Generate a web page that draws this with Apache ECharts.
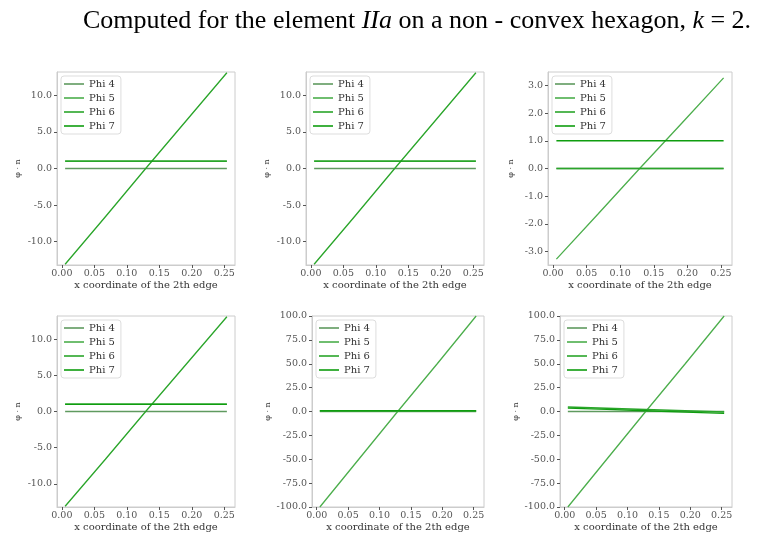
<!DOCTYPE html>
<html>
<head>
<meta charset="utf-8">
<script src="https://cdn.jsdelivr.net/npm/echarts@6/dist/echarts.min.js"></script>
<style>
  html, body { margin: 0; padding: 0; background: #fff; }
  #main { width: 760px; height: 542px; }
</style>
</head>
<body>
<div id="main"></div>
<script>
// x samples along the 2th edge
const xs = [0.005, 0.067, 0.129, 0.192, 0.254];
const seriesNames = ['Phi 4', 'Phi 5', 'Phi 6', 'Phi 7'];
const seriesColors = ['#5f9a5f', '#4cae4c', '#2aa52a', '#0f9d0f'];

// values
const flatZero = [0, 0, 0, 0, 0];
const flatOne = [1, 1, 1, 1, 1];
const flatHalf = [0.5, 0.5, 0.5, 0.5, 0.5];
const diag13 = [-13.1, -6.6, 0, 6.6, 13.1];
const diag3 = [-3.27, -1.64, 0, 1.64, 3.27];
const diag100 = [-100, -50, 0, 50, 100];
const slopeA = [4.7, 3.4, 2.1, 0.8, -0.5];
const slopeB = [3.6, 2.2, 0.8, -0.6, -2.0];

const xTicks = [0, 0.05, 0.1, 0.15, 0.2, 0.25];
const yTicks13 = [-10, -5, 0, 5, 10];
const yTicks3 = [-3, -2, -1, 0, 1, 2, 3];
const yTicks100 = [-100, -75, -50, -25, 0, 25, 50, 75, 100];

const xName = 'x coordinate of the 2th edge';
const yName = 'φ · n';

// panel layout (pixels) + which arrays go where
const panels = [
  { left: 57, top: 72, width: 178, height: 193, yMin: -13.2, yMax: 13.2, ticks: yTicks13, gap: 35,
    lines: [flatZero, flatOne, diag13, flatOne] },
  { left: 306, top: 72, width: 178, height: 193, yMin: -13.2, yMax: 13.2, ticks: yTicks13, gap: 35,
    lines: [flatZero, flatOne, diag13, flatOne] },
  { left: 548, top: 72, width: 184, height: 193, yMin: -3.48, yMax: 3.48, ticks: yTicks3, gap: 33,
    lines: [flatZero, diag3, flatZero, flatOne] },
  { left: 57, top: 316, width: 178, height: 191, yMin: -13.2, yMax: 13.2, ticks: yTicks13, gap: 35,
    lines: [flatZero, flatOne, diag13, flatOne] },
  { left: 312, top: 316, width: 172, height: 191, yMin: -100, yMax: 100, ticks: yTicks100, gap: 40,
    lines: [flatZero, diag100, flatHalf, flatOne] },
  { left: 560, top: 316, width: 172, height: 191, yMin: -100, yMax: 100, ticks: yTicks100, gap: 40,
    lines: [flatZero, diag100, slopeA, slopeB] }
];

const serif = 'DejaVu Serif';
const grid = [], xAxis = [], yAxis = [], legend = [], series = [];

panels.forEach((p, i) => {
  grid.push({
    left: p.left, top: p.top, width: p.width, height: p.height,
    show: true, borderColor: '#cccccc', borderWidth: 1, backgroundColor: '#fff'
  });
  xAxis.push({
    gridIndex: i, type: 'value', min: -0.0075, max: 0.2665,
    name: xName, nameLocation: 'middle', nameGap: 15,
    nameTextStyle: { fontFamily: serif, fontSize: 10, color: '#333' },
    axisLine: { show: true, onZero: false, lineStyle: { color: '#cccccc' } },
    axisTick: { show: true, length: 3, customValues: xTicks, lineStyle: { color: '#555' } },
    axisLabel: {
      customValues: xTicks, margin: 4, fontFamily: serif, fontSize: 9.5, color: '#555',
      formatter: v => v.toFixed(2)
    },
    splitLine: { show: false }
  });
  yAxis.push({
    gridIndex: i, type: 'value', min: p.yMin, max: p.yMax,
    name: yName, nameLocation: 'middle', nameRotate: 90, nameGap: p.gap,
    nameTextStyle: { fontFamily: serif, fontSize: 8, color: '#333' },
    axisLine: { show: true, onZero: false, lineStyle: { color: '#cccccc' } },
    axisTick: { show: true, length: 3, customValues: p.ticks, lineStyle: { color: '#555' } },
    axisLabel: {
      customValues: p.ticks, margin: 5, fontFamily: serif, fontSize: 9.5, color: '#555',
      formatter: v => v.toFixed(1)
    },
    splitLine: { show: false }
  });
  legend.push({
    data: seriesNames, orient: 'vertical',
    left: p.left + 4, top: p.top + 4,
    icon: 'rect', itemWidth: 20, itemHeight: 1.6, itemGap: 4,
    padding: [3, 6, 3, 3],
    backgroundColor: 'rgba(255,255,255,0.85)', borderColor: '#dddddd', borderWidth: 1, borderRadius: 3,
    textStyle: { fontFamily: serif, fontSize: 10, lineHeight: 10, color: '#333' }
  });
  p.lines.forEach((vals, k) => {
    series.push({
      name: seriesNames[k], type: 'line',
      xAxisIndex: i, yAxisIndex: i,
      data: xs.map((x, j) => [x, vals[j]]),
      symbol: 'none', silent: true, animation: false,
      color: seriesColors[k],
      lineStyle: { width: 1.3, color: seriesColors[k] },
      z: 2 + k
    });
  });
});

const chart = echarts.init(document.getElementById('main'));
chart.setOption({
  animation: false,
  title: {
    text: 'Computed for the element {i|IIa} on a non - convex hexagon, {i|k} = 2.',
    left: 78, top: 3,
    textStyle: {
      fontFamily: 'Liberation Serif', fontSize: 26, fontWeight: 'normal', color: '#000',
      rich: { i: { fontFamily: 'Liberation Serif', fontStyle: 'italic', fontSize: 26, color: '#000' } }
    }
  },
  grid, xAxis, yAxis, legend, series
});
</script>
</body>
</html>
